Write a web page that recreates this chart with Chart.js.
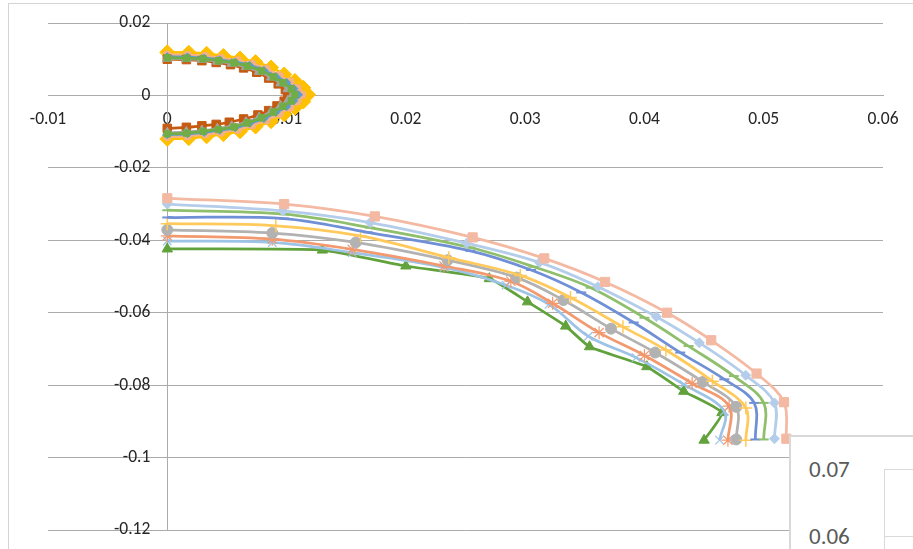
<!DOCTYPE html>
<html>
<head>
<meta charset="utf-8">
<script src="https://cdn.jsdelivr.net/npm/chart.js@4/dist/chart.umd.min.js"></script>
<style>
  html, body { margin: 0; padding: 0; background: #fff; }
  #wrap { position: relative; width: 913px; height: 549px; overflow: hidden; }
  #frame { position: absolute; left: 8px; top: 3px; width: 1000px; height: 700px; border-left: 1px solid #d4d4d4; border-top: 1px solid #d4d4d4; box-sizing: border-box; }
  canvas { position: absolute; left: 0; top: 0; }
  #inset { position: absolute; left: 789px; top: 435px; width: 200px; height: 200px; background: #fff; border: 2px solid #d9d9d9; box-sizing: border-box; }
  #inset .tick { position: absolute; left: 18px; font: 23px Carlito, Lato, sans-serif; color: #595959; line-height: 1; }
  #inset .plot { position: absolute; left: 93px; top: 32px; width: 200px; height: 200px; border-left: 1px solid #d9d9d9; border-top: 1px solid #d9d9d9; }
  #inset .grid { position: absolute; left: 93px; top: 99px; width: 200px; border-top: 1px solid #d9d9d9; }
</style>
</head>
<body>
<div id="wrap">
  <div id="frame"></div>
  <canvas id="c" width="913" height="549"></canvas>
  <div id="inset">
    <div class="plot"></div>
    <div class="grid"></div>
    <div class="tick" style="top:21px">0.07</div>
    <div class="tick" style="top:88px">0.06</div>
  </div>
</div>
<script>
// Axis ticks
const xTickValues = [-0.01, 0, 0.01, 0.02, 0.03, 0.04, 0.05, 0.06];
const xTickLabels = ['-0.01', '0', '0.01', '0.02', '0.03', '0.04', '0.05', '0.06'];
const yTickValues = [0.02, 0, -0.02, -0.04, -0.06, -0.08, -0.1, -0.12];
const yTickLabels = ['0.02', '0', '-0.02', '-0.04', '-0.06', '-0.08', '-0.1', '-0.12'];

// Inner loop profiles (x, y pairs)
const loopGold = [
  [0, 0.0119], [0.0018, 0.0118], [0.0033, 0.0115], [0.0047, 0.0109], [0.0061, 0.0102],
  [0.0074, 0.0092], [0.0087, 0.0077], [0.0098, 0.0058], [0.0107, 0.0040], [0.0114, 0.0021],
  [0.0118, 0.0002], [0.0114, -0.0017], [0.0107, -0.0034], [0.0098, -0.0052], [0.0087, -0.0071],
  [0.0074, -0.0086], [0.0061, -0.0099], [0.0047, -0.0107], [0.0033, -0.0113], [0.0018, -0.0118],
  [0, -0.0120]
];
const loopOrange = [
  [0, 0.0112], [0.0017, 0.0111], [0.0032, 0.0108], [0.0045, 0.0103], [0.0059, 0.0096],
  [0.0071, 0.0087], [0.0083, 0.0073], [0.0094, 0.0055], [0.0103, 0.0038], [0.0109, 0.0020],
  [0.0113, 0.0002], [0.0109, -0.0016], [0.0103, -0.0033], [0.0094, -0.0050], [0.0083, -0.0068],
  [0.0071, -0.0082], [0.0059, -0.0094], [0.0045, -0.0102], [0.0032, -0.0107], [0.0017, -0.0112],
  [0, -0.0114]
];
const loopBlue = [
  [0, 0.0107], [0.0017, 0.0106], [0.0031, 0.0103], [0.0044, 0.0098], [0.0057, 0.0092],
  [0.0069, 0.0083], [0.0081, 0.0069], [0.0091, 0.0052], [0.0100, 0.0036], [0.0106, 0.0019],
  [0.0110, 0.0002], [0.0106, -0.0015], [0.0100, -0.0031], [0.0091, -0.0047], [0.0081, -0.0064],
  [0.0069, -0.0077], [0.0057, -0.0089], [0.0044, -0.0096], [0.0031, -0.0102], [0.0017, -0.0106],
  [0, -0.0108]
];
const loopGreen = [
  [0, 0.0104], [0.0016, 0.0103], [0.0030, 0.0101], [0.0043, 0.0096], [0.0056, 0.0090],
  [0.0067, 0.0081], [0.0079, 0.0068], [0.0089, 0.0051], [0.0097, 0.0035], [0.0104, 0.0018],
  [0.0107, 0.0002], [0.0104, -0.0015], [0.0097, -0.0030], [0.0089, -0.0046], [0.0079, -0.0062],
  [0.0067, -0.0076], [0.0056, -0.0087], [0.0043, -0.0094], [0.0030, -0.0099], [0.0016, -0.0104],
  [0, -0.0106]
];
const loopGray = [
  [0, 0.0102], [0.0016, 0.0101], [0.0029, 0.0099], [0.0042, 0.0094], [0.0054, 0.0088],
  [0.0066, 0.0079], [0.0077, 0.0066], [0.0087, 0.0050], [0.0095, 0.0034], [0.0101, 0.0018],
  [0.0105, 0.0002], [0.0101, -0.0015], [0.0095, -0.0029], [0.0087, -0.0045], [0.0077, -0.0061],
  [0.0066, -0.0074], [0.0054, -0.0085], [0.0042, -0.0092], [0.0029, -0.0097], [0.0016, -0.0101],
  [0, -0.0103]
];
const loopBrown = [
  [0, 0.0100], [0.0016, 0.0099], [0.0029, 0.0096], [0.0041, 0.0091], [0.0053, 0.0085],
  [0.0064, 0.0076], [0.0075, 0.0064], [0.0085, 0.0048], [0.0093, 0.0032], [0.0099, 0.0016],
  [0.0101, 0.0000], [0.0098, -0.0016], [0.0092, -0.0029], [0.0085, -0.0042], [0.0076, -0.0054],
  [0.0064, -0.0065], [0.0052, -0.0074], [0.0041, -0.0080], [0.0029, -0.0084], [0.0016, -0.0088],
  [0, -0.0091]
];

// Outer profiles (x, y pairs), from top curve down to the lowest
const outerSalmon = [
  [0, -0.0284], [0.0098, -0.0300], [0.0174, -0.0334], [0.0256, -0.0392], [0.0316, -0.0450],
  [0.0367, -0.0515], [0.0419, -0.0600], [0.0456, -0.0676], [0.0494, -0.0768], [0.0517, -0.0847],
  [0.0519, -0.0948]
];
const outerLightBlue = [
  [0, -0.0300], [0.0097, -0.0319], [0.0170, -0.0351], [0.0251, -0.0408], [0.0312, -0.0461],
  [0.0361, -0.0528], [0.0410, -0.0611], [0.0446, -0.0683], [0.0485, -0.0773], [0.0509, -0.0849],
  [0.0509, -0.0948]
];
const outerGreen = [
  [0, -0.0317], [0.0098, -0.0328], [0.0170, -0.0365], [0.0254, -0.0420], [0.0307, -0.0473],
  [0.0355, -0.0531], [0.0400, -0.0614], [0.0437, -0.0692], [0.0475, -0.0775], [0.0500, -0.0849],
  [0.0500, -0.0950]
];
const outerBlue = [
  [0, -0.0337], [0.0098, -0.0340], [0.0168, -0.0378], [0.0254, -0.0429], [0.0305, -0.0482],
  [0.0347, -0.0544], [0.0391, -0.0627], [0.0430, -0.0710], [0.0467, -0.0784], [0.0492, -0.0849],
  [0.0493, -0.0950]
];
const outerYellow = [
  [0, -0.0354], [0.0091, -0.0360], [0.0162, -0.0388], [0.0236, -0.0448], [0.0296, -0.0497],
  [0.0338, -0.0558], [0.0382, -0.0639], [0.0418, -0.0703], [0.0457, -0.0789], [0.0485, -0.0863],
  [0.0485, -0.0952]
];
const outerGray = [
  [0, -0.0371], [0.0088, -0.0380], [0.0158, -0.0406], [0.0235, -0.0455], [0.0293, -0.0503],
  [0.0332, -0.0565], [0.0372, -0.0644], [0.0409, -0.0710], [0.0449, -0.0791], [0.0477, -0.0860],
  [0.0477, -0.0950]
];
const outerOrange = [
  [0, -0.0388], [0.0088, -0.0397], [0.0155, -0.0425], [0.0232, -0.0471], [0.0288, -0.0513],
  [0.0323, -0.0574], [0.0362, -0.0655], [0.0400, -0.0718], [0.0440, -0.0795], [0.0471, -0.0858],
  [0.0470, -0.0952]
];
const outerSky = [
  [0, -0.0402], [0.0088, -0.0406], [0.0155, -0.0434], [0.0232, -0.0475], [0.0284, -0.0524],
  [0.0320, -0.0577], [0.0353, -0.0665], [0.0393, -0.0724], [0.0433, -0.0798], [0.0467, -0.0872],
  [0.0463, -0.0952]
];
const outerDarkGreen = [
  [0, -0.0424], [0.0130, -0.0427], [0.0200, -0.0471], [0.0270, -0.0506], [0.0302, -0.0570],
  [0.0334, -0.0637], [0.0354, -0.0694], [0.0402, -0.0749], [0.0433, -0.0817], [0.0465, -0.0876],
  [0.0450, -0.0952]
];

function pts(arr) { return arr.map(p => ({ x: p[0], y: p[1] })); }

function series(data, color, style, radius, extra) {
  return Object.assign({
    data: pts(data),
    showLine: true,
    borderColor: color,
    backgroundColor: color,
    borderWidth: 2.75,
    pointStyle: style,
    pointRadius: radius,
    pointBorderColor: color,
    pointBackgroundColor: color,
    pointBorderWidth: 1,
    tension: 0.35
  }, extra || {});
}

const datasets = [
  // lower family
  series(outerSalmon, '#f4b9a2', 'rect', 6.5),
  series(outerLightBlue, '#b4cdea', 'rectRot', 5),
  series(outerGreen, '#8fbf6c', 'line', 5, { pointBorderWidth: 2 }),
  series(outerBlue, '#6f8fd6', 'line', 5, { pointBorderWidth: 2 }),
  series(outerYellow, '#ffc95c', 'cross', 6.5, { pointBorderWidth: 1.5 }),
  series(outerGray, '#b2b2b2', 'circle', 5.5),
  series(outerOrange, '#f2996f', 'star', 6.5, { pointBorderWidth: 1.2 }),
  series(outerSky, '#9dc3e6', 'crossRot', 6, { pointBorderWidth: 1.2 }),
  series(outerDarkGreen, '#62a23c', 'triangle', 6, { tension: 0.15 }),
  // inner loops
  series(loopGreen, '#70ad47', 'rect', 4.5),
  series(loopBlue, '#5b9bd5', 'rectRot', 4),
  series(loopGray, '#a5a5a5', 'triangle', 5.5),
  series(loopBrown, '#c55a11', 'rect', 6),
  series(loopOrange, '#f4b183', 'circle', 4),
  series(loopGold, '#ffc000', 'rectRot', 7.5)
];

const tickFont = { family: 'Carlito, Lato, sans-serif', size: 17.5 };
const tickColor = '#262626';
const axisGray = '#ababab';

// Value labels for the vertical axis, right-aligned just left of the x = 0 axis line
const yValueLabels = {
  id: 'yValueLabels',
  beforeDatasetsDraw(chart) {
    const { ctx, scales } = chart;
    const right = scales.x.getPixelForValue(0) - 17;
    ctx.save();
    ctx.font = `${tickFont.size}px ${tickFont.family}`;
    ctx.fillStyle = tickColor;
    ctx.textAlign = 'right';
    ctx.textBaseline = 'middle';
    yTickValues.forEach((v, i) => {
      ctx.fillText(yTickLabels[i], right, scales.y.getPixelForValue(v));
    });
    ctx.restore();
  }
};

new Chart(document.getElementById('c'), {
  type: 'scatter',
  data: { datasets },
  plugins: [yValueLabels],
  options: {
    responsive: false,
    devicePixelRatio: 1,
    animation: false,
    layout: { padding: { left: 48, right: 30, top: 23, bottom: 19 } },
    plugins: { legend: { display: false }, tooltip: { enabled: false } },
    scales: {
      x: {
        type: 'linear',
        min: -0.01, max: 0.06,
        position: { y: 0 },
        afterFit(s) { s.height = 0; },
        afterBuildTicks(s) { s.ticks = xTickValues.map(v => ({ value: v })); },
        grid: { display: false, drawTicks: false },
        border: { display: true, color: axisGray, width: 1 },
        ticks: {
          padding: 14,
          color: tickColor,
          font: tickFont,
          maxRotation: 0,
          autoSkip: false,
          callback: (v, i) => xTickLabels[i]
        }
      },
      y: {
        type: 'linear',
        min: -0.12, max: 0.02,
        position: { x: 0 },
        afterFit(s) { s.width = 0; },
        afterBuildTicks(s) { s.ticks = yTickValues.map(v => ({ value: v })); },
        grid: { display: true, color: axisGray, lineWidth: 1, drawTicks: false },
        border: { display: true, color: axisGray, width: 1 },
        ticks: { display: false }
      }
    }
  }
});
</script>
</body>
</html>
